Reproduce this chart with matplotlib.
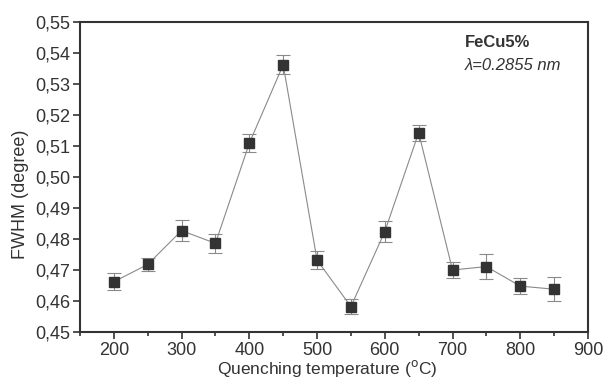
import matplotlib
matplotlib.use("Agg")
import matplotlib.pyplot as plt
import matplotlib.ticker as mticker

# data
temperature = [200, 250, 300, 350, 400, 450, 500, 550, 600, 650, 700, 750, 800, 850]
fwhm = [0.4662, 0.4718, 0.4827, 0.4786, 0.5109, 0.5362, 0.4732, 0.4582,
        0.4824, 0.5143, 0.4700, 0.4711, 0.4648, 0.4638]
fwhm_err = [0.0027, 0.0022, 0.0033, 0.0030, 0.0029, 0.0031, 0.0028, 0.0024,
            0.0033, 0.0026, 0.0025, 0.0040, 0.0027, 0.0039]

DARK = "#333333"
GRAY = "#8a8a8a"

plt.rcParams["font.family"] = ["Liberation Sans", "DejaVu Sans"]

fig = plt.figure(figsize=(6.05, 3.78), dpi=100)
ax = fig.add_axes([0.1322, 0.1217, 0.8397, 0.8201])

ax.errorbar(temperature, fwhm, yerr=fwhm_err, fmt="s-", color=GRAY,
            lw=0.8, elinewidth=0.8, capsize=5, capthick=0.8,
            mfc=DARK, mec=DARK, ms=7.5, zorder=3)

ax.set_xlim(150, 900)
ax.set_ylim(0.45, 0.55)
ax.xaxis.set_major_locator(mticker.MultipleLocator(100))
ax.xaxis.set_minor_locator(mticker.MultipleLocator(50))
ax.yaxis.set_major_locator(mticker.MultipleLocator(0.01))
ax.yaxis.set_major_formatter(mticker.FuncFormatter(lambda v, p: f"{v:.2f}".replace(".", ",")))
ax.xaxis.set_major_formatter(mticker.FuncFormatter(
    lambda v, p: "" if v < 200 else f"{v:.0f}"))

for s in ax.spines.values():
    s.set_color(DARK)
    s.set_linewidth(1.5)
ax.tick_params(which="both", direction="out", color=DARK, width=1.2,
               labelsize=13, labelcolor=DARK)
ax.tick_params(which="major", length=5, pad=2)
ax.tick_params(which="minor", length=3)

ax.set_xlabel("Quenching temperature ($^{\\mathrm{o}}$C)", fontsize=12.5,
              color=DARK)
ax.xaxis.set_label_coords(0.487, -0.084, transform=ax.transAxes)
ax.xaxis.label.set_va("top")
ax.set_ylabel("FWHM (degree)", fontsize=13, color=DARK)
ax.yaxis.set_label_coords(-0.100, 0.445)

ax.text(0.758, 0.935, "FeCu5%", transform=ax.transAxes, fontsize=12,
        fontweight="bold", color=DARK, va="center")
ax.text(0.758, 0.861, "λ=0.2855 nm", transform=ax.transAxes, fontsize=12,
        style="italic", color=DARK, va="center")

fig.savefig("out.png", dpi=100)
